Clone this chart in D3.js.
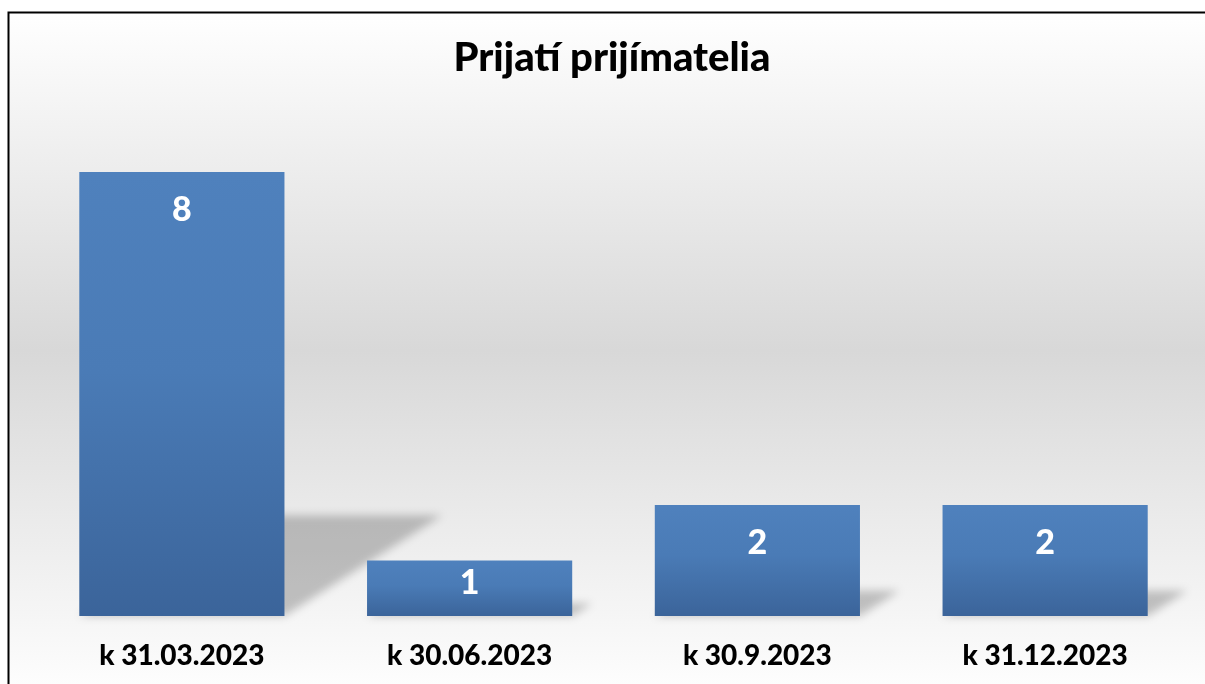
<!DOCTYPE html>
<html>
<head>
<meta charset="utf-8">
<script src="https://cdn.jsdelivr.net/npm/d3@7"></script>
<style>
  body { margin: 0; background: #fff; }
  text { font-family: Lato, "Open Sans", sans-serif; font-weight: 700; }
</style>
</head>
<body>
<svg id="chart" width="1205" height="684"></svg>
<script>
const title = 'Prijatí prijímatelia';
const categories = ['k 31.03.2023', 'k 30.06.2023', 'k 30.9.2023', 'k 31.12.2023'];
const values = [8, 1, 2, 2];

const data = categories.map((c, i) => ({ cat: c, val: values[i] }));

const svg = d3.select('#chart'),
  width = +svg.attr('width'),
  height = +svg.attr('height');

const defs = svg.append('defs');

// chart area gradient (white - grey - white)
const bg = defs.append('linearGradient')
  .attr('id', 'bg').attr('x1', 0).attr('y1', 0).attr('x2', 0).attr('y2', 1);
bg.append('stop').attr('offset', '0%').attr('stop-color', '#ffffff');
bg.append('stop').attr('offset', '49%').attr('stop-color', '#d8d8d8');
bg.append('stop').attr('offset', '100%').attr('stop-color', '#ffffff');

const barGrad = defs.append('linearGradient')
  .attr('id', 'barGrad').attr('x1', 0).attr('y1', 0).attr('x2', 0).attr('y2', 1);
barGrad.append('stop').attr('offset', '0%').attr('stop-color', '#4f81bd');
barGrad.append('stop').attr('offset', '45%').attr('stop-color', '#4a7bb6');
barGrad.append('stop').attr('offset', '100%').attr('stop-color', '#3b649a');

defs.append('filter').attr('id', 'blur')
  .attr('x', '-20%').attr('y', '-20%').attr('width', '140%').attr('height', '140%')
  .append('feGaussianBlur').attr('stdDeviation', 4);

svg.append('rect')
  .attr('x', 8.5).attr('y', 12.5)
  .attr('width', width).attr('height', 690)
  .attr('fill', 'url(#bg)')
  .attr('stroke', '#000').attr('stroke-width', 2);

const x = d3.scaleBand()
  .domain(categories)
  .range([38, 1189])
  .paddingInner(0.287)
  .paddingOuter(0.1435);

const y = d3.scaleLinear()
  .domain([0, 9])
  .range([616, 116.5]);

// perspective shadows lying behind the bars
const shadowH = 0.227, shadowK = 0.355;
svg.append('g').attr('filter', 'url(#blur)')
  .selectAll('path')
  .data(data)
  .enter()
  .append('path')
  .attr('d', d => {
    const x0 = x(d.cat), x1 = x0 + x.bandwidth(), b = y(0), h = y(0) - y(d.val);
    return 'M' + x0 + ',' + b + 'L' + x1 + ',' + b +
      'L' + (x1 + h * shadowK) + ',' + (b - h * shadowH) +
      'L' + (x0 + h * shadowK) + ',' + (b - h * shadowH) + 'Z';
  })
  .attr('fill', '#000')
  .attr('opacity', 0.22);

svg.append('g')
  .selectAll('rect')
  .data(data)
  .enter()
  .append('rect')
  .attr('x', d => x(d.cat))
  .attr('y', d => y(d.val))
  .attr('width', x.bandwidth())
  .attr('height', d => y(0) - y(d.val))
  .attr('fill', 'url(#barGrad)');

svg.append('g')
  .selectAll('text')
  .data(data)
  .enter()
  .append('text')
  .attr('x', d => x(d.cat) + x.bandwidth() / 2)
  .attr('y', d => Math.min(y(d.val) + 49, (y(d.val) + y(0)) / 2 + 6))
  .attr('text-anchor', 'middle')
  .attr('fill', '#fff')
  .style('font-size', '34px')
  .style('font-weight', 900)
  .text(d => d.val);

svg.append('g')
  .selectAll('text')
  .data(data)
  .enter()
  .append('text')
  .attr('x', d => x(d.cat) + x.bandwidth() / 2)
  .attr('y', 665)
  .attr('text-anchor', 'middle')
  .attr('fill', '#000')
  .style('font-size', '28px')
  .style('font-weight', 900)
  .text(d => d.cat);

svg.append('text')
  .attr('x', 612)
  .attr('y', 71)
  .attr('text-anchor', 'middle')
  .attr('fill', '#000')
  .style('font-size', '40px')
  .style('font-weight', 900)
  .text(title);
</script>
</body>
</html>
